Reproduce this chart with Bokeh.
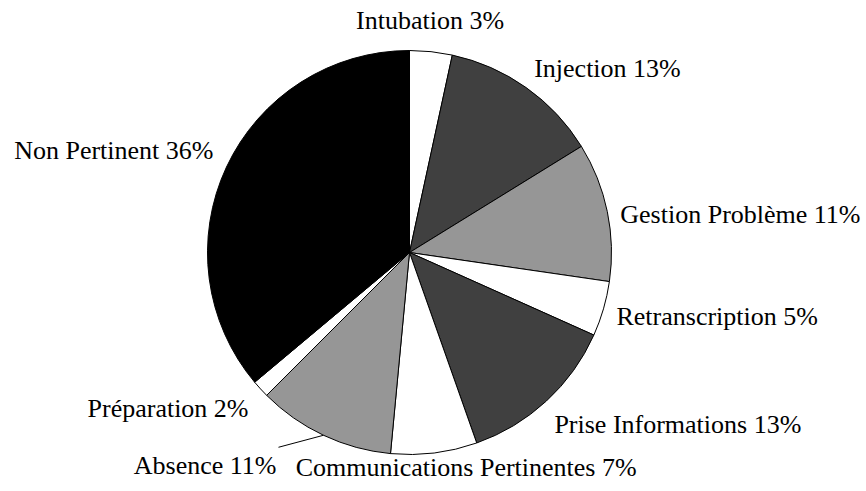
import math
from bokeh.plotting import figure
from bokeh.models import Range1d, ColumnDataSource
from bokeh.core.properties import value
from bokeh.embed import file_html
from bokeh.resources import INLINE

# ---- data ----
categories = ["Intubation", "Injection", "Gestion Problème", "Retranscription",
              "Prise Informations", "Communications Pertinentes", "Absence",
              "Préparation", "Non Pertinent"]
shares = [3.4, 12.8, 11.1, 4.4, 12.9, 6.9, 11.0, 1.4, 36.1]
pct_labels = ["3%", "13%", "11%", "5%", "13%", "7%", "11%", "2%", "36%"]

# ---- styles / layout ----
colors = ["#ffffff", "#404040", "#969696", "#ffffff", "#404040",
          "#ffffff", "#969696", "#ffffff", "#000000"]
# label offsets from rim point at slice mid-angle (pixels, y up) and alignment
label_offsets = [(-1, 31), (8, 19), (13, -3), (13, -8), (8, -23),
                 (32, -15), (-47, -30), (-12, -20), (-13, 17)]
label_align = ["center", "left", "left", "left", "left",
               "center", "right", "right", "right"]
leader_idx = 6
leader_end = (-45, -12)

W, H = 866, 491
CX, CY, R = 409, 239, 202

p = figure(width=W, height=H, output_backend="svg", toolbar_location=None,
           x_range=Range1d(0, W), y_range=Range1d(0, H), min_border=0)
p.axis.visible = False
p.grid.visible = False
p.outline_line_color = None
p.background_fill_color = "white"
p.border_fill_color = "white"

total = sum(shares)
starts, ends, mids = [], [], []
cum = 0.0
for s in shares:
    a0 = cum / total * 2 * math.pi
    cum += s
    a1 = cum / total * 2 * math.pi
    starts.append(math.pi / 2 - a0)
    ends.append(math.pi / 2 - a1)
    mids.append((a0 + a1) / 2)

src = ColumnDataSource(dict(start=starts, end=ends, color=colors))
p.wedge(x=CX, y=CY, radius=R, start_angle="start", end_angle="end",
        direction="clock", fill_color="color", line_color="black",
        line_width=1, source=src)

lx, ly, txt = [], [], []
for i, m in enumerate(mids):
    rx = CX + R * math.sin(m)
    ry = CY + R * math.cos(m)
    lx.append(rx + label_offsets[i][0])
    ly.append(ry + label_offsets[i][1])
    txt.append(f"{categories[i]} {pct_labels[i]}")
    if i == leader_idx:
        p.segment(x0=[rx], y0=[ry], x1=[rx + leader_end[0]], y1=[ry + leader_end[1]],
                  line_color="black", line_width=1)

tsrc = ColumnDataSource(dict(x=lx, y=ly, text=txt, align=label_align))
p.text(x="x", y="y", text="text", text_align="align", text_baseline="middle",
       text_font=value("Liberation Serif"), text_font_size="26px",
       text_color="black", source=tsrc)

open("out.html", "w").write(file_html(p, INLINE))
